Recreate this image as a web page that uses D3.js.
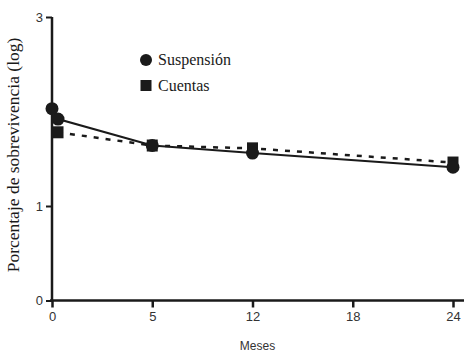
<!DOCTYPE html>
<html>
<head>
<meta charset="utf-8">
<script src="https://cdn.jsdelivr.net/npm/d3@7"></script>
<style>
    body { margin: 0; background: #fff; }
    svg { display: block; }
    .tick text { font-family: "Liberation Sans", Arial, sans-serif; font-size: 13px; fill: #333; }
</style>
</head>
<body>
<div id="chart"></div>
<script>
// data
const monthTicks = [0, 5, 12, 18, 24];
const yTicks = [0, 1, 3];

const suspMonths = [0, 0.3, 5, 12, 24];
const suspValues = [2.03, 1.92, 1.64, 1.56, 1.41];

const cuentasMonths = [0.3, 5, 12, 24];
const cuentasValues = [1.78, 1.64, 1.61, 1.46];

const seriesNames = ["Suspensión", "Cuentas"];

const size = { width: 464, height: 354 };
const plot = { left: 52, right: 453, top: 17, bottom: 300.5 };
const ink = "#1a1a1a";
const serifFont = "Liberation Serif, DejaVu Serif, serif";

const svg = d3.select("#chart")
    .append("svg")
    .attr("width", size.width)
    .attr("height", size.height);

// ticks are evenly spaced even though months are not
const xScale = d3.scaleLinear()
    .domain(monthTicks)
    .range(monthTicks.map((d, i) => plot.left + i * (plot.right - plot.left) / (monthTicks.length - 1)));

const yScale = d3.scaleLinear()
    .domain([0, 3])
    .range([plot.bottom, plot.top]);

const xAxis = d3.axisBottom(xScale)
    .tickValues(monthTicks)
    .tickSize(7)
    .tickPadding(4)
    .tickFormat(d3.format("d"));

const yAxis = d3.axisLeft(yScale)
    .tickValues(yTicks)
    .tickSize(6)
    .tickPadding(3)
    .tickFormat(d3.format("d"));

const gx = svg.append("g")
    .attr("transform", "translate(0," + plot.bottom + ")")
    .call(xAxis);
gx.select(".domain").remove();
gx.append("line")
    .attr("x1", plot.left - 2)
    .attr("x2", size.width)
    .attr("stroke", ink)
    .attr("stroke-width", 2.5);
gx.selectAll(".tick line").attr("stroke", ink).attr("stroke-width", 2.5);

const gy = svg.append("g")
    .attr("transform", "translate(" + plot.left + ",0)")
    .call(yAxis);
gy.select(".domain").remove();
gy.append("line")
    .attr("y1", plot.top)
    .attr("y2", plot.bottom + 1)
    .attr("stroke", ink)
    .attr("stroke-width", 2.5);
gy.selectAll(".tick line").attr("stroke", ink).attr("stroke-width", 2);

const line = d3.line()
    .x(d => xScale(d[0]))
    .y(d => yScale(d[1]));

const suspData = suspMonths.map((m, i) => [m, suspValues[i]]);
const cuentasData = cuentasMonths.map((m, i) => [m, cuentasValues[i]]);

svg.append("path")
    .datum(cuentasData)
    .attr("fill", "none")
    .attr("stroke", ink)
    .attr("stroke-width", 2.5)
    .attr("stroke-dasharray", "5,7")
    .attr("d", line);

svg.append("path")
    .datum(suspData)
    .attr("fill", "none")
    .attr("stroke", ink)
    .attr("stroke-width", 2)
    .attr("d", line);

svg.selectAll(".sq")
    .data(cuentasData)
    .join("rect")
    .attr("class", "sq")
    .attr("x", d => xScale(d[0]) - 5.5)
    .attr("y", d => yScale(d[1]) - 6)
    .attr("width", 11)
    .attr("height", 12)
    .attr("fill", ink);

svg.selectAll(".dot")
    .data(suspData)
    .join("circle")
    .attr("class", "dot")
    .attr("cx", d => xScale(d[0]))
    .attr("cy", d => yScale(d[1]))
    .attr("r", 6.5)
    .attr("fill", ink);

// labels
svg.append("text")
    .attr("x", (plot.left + plot.right) / 2 + 5)
    .attr("y", 350)
    .attr("text-anchor", "middle")
    .attr("font-family", "Liberation Sans, Arial, sans-serif")
    .attr("font-size", 12)
    .attr("fill", "#333")
    .text("Meses");

svg.append("text")
    .attr("transform", "translate(19,155) rotate(-90)")
    .attr("text-anchor", "middle")
    .attr("font-family", serifFont)
    .attr("font-size", 17.5)
    .attr("fill", ink)
    .text("Porcentaje de sobrevivencia (log)");

// legend
const legend = svg.append("g").attr("transform", "translate(146,60)");
legend.append("circle").attr("cx", 0).attr("cy", 0).attr("r", 6).attr("fill", ink);
legend.append("rect").attr("x", -5.5).attr("y", 20).attr("width", 11).attr("height", 11).attr("fill", ink);
legend.selectAll(".ltext")
    .data(seriesNames)
    .join("text")
    .attr("class", "ltext")
    .attr("x", 12)
    .attr("y", (d, i) => 5 + i * 26)
    .attr("font-family", serifFont)
    .attr("font-size", 16)
    .attr("fill", ink)
    .text(d => d);
</script>
</body>
</html>
